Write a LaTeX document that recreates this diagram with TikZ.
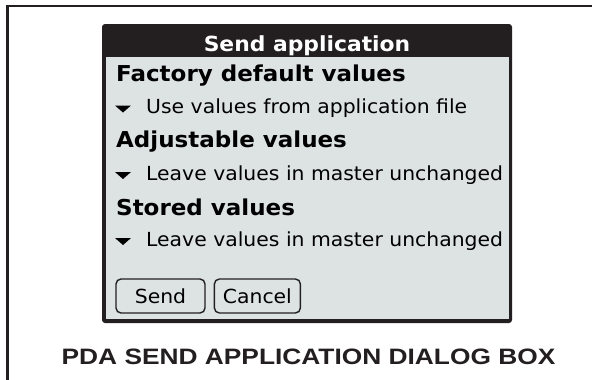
\documentclass[tikz,border=0pt]{standalone}
\usepackage{fontspec}
\usetikzlibrary{positioning}
\newfontfamily\palmfont{DejaVu Sans}[FakeStretch=1.05]
\newfontfamily\capfont{Liberation Sans}[FakeStretch=1.18]
\definecolor{palmdark}{HTML}{231F20}
\definecolor{palmface}{HTML}{DDE3E3}
\tikzset{
dlgtitle/.style = {text=white, font=\palmfont\bfseries\fontsize{20.8}{22}\selectfont, anchor=base, inner sep=0pt},
heading/.style = {text=black, font=\palmfont\bfseries\fontsize{21.9}{23}\selectfont, anchor=base west, inner sep=0pt},
choice/.style = {text=black, font=\palmfont\fontsize{19.4}{21}\selectfont, anchor=base west, inner sep=0pt},
button/.style = {draw=palmdark, line width=1.4pt, rounded corners=5pt, minimum height=34pt, inner sep=0pt, text=black, font=\palmfont\fontsize{19.4}{21}\selectfont},
caption/.style = {text=palmdark, font=\capfont\bfseries\fontsize{22.3}{24}\selectfont, anchor=base, inner sep=0pt},
}
\begin{document}
\begin{tikzpicture}[x=1pt, y=-1pt]
    \useasboundingbox (0,0) rectangle (592,380);
    % outer frame
    \draw[palmdark, line width=2.5pt] (7.5,380) |- (592,6);
    % dialog window
    \fill[palmdark, rounded corners=3pt] (102,24) rectangle (512,323);
    \fill[palmface] (106,57) rectangle (508.5,319);
    \node[dlgtitle] (title) at (307,51) {Send application};

    \node[heading] (factory) at (116,81.5) {Factory default values};
    \node[choice] (usefile) at (146,113.5) {Use values from application file};
    \node[heading] (adjust) at (116,147) {Adjustable values};
    \node[choice] (leaveadj) at (146,180) {Leave values in master unchanged};
    \node[heading] (stored) at (116,215) {Stored values};
    \node[choice] (leavestored) at (146,246) {Leave values in master unchanged};
    \foreach \b in {113.5,180,246}
      \fill[black] (115,\b-8) -- (131,\b-8) -- (123,\b-1) -- cycle;

    \node[button, minimum width=89pt] (send) at (160.5,296) {Send};
    \node[button, minimum width=86pt, right=8pt of send] (cancel) {Cancel};

    \node[caption] (cap) at (308.5,364) {PDA SEND APPLICATION DIALOG BOX};
\end{tikzpicture}
\end{document}
